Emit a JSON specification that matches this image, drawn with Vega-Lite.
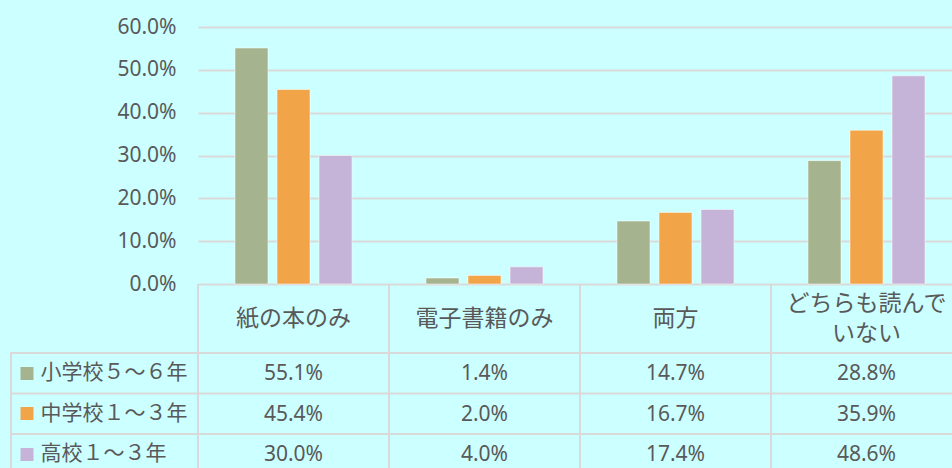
{
  "$schema": "https://vega.github.io/schema/vega-lite/v6.json",
  "background": "#ccffff",
  "padding": {"left": 9, "top": 16, "right": 0, "bottom": 0},
  "config": {
    "font": "'Noto Sans', 'Noto Sans CJK JP', sans-serif",
    "view": {"stroke": null}
  },
  "columns": 2,
  "spacing": 0,
  "bounds": "flush",
  "datasets": {
    "vals": [
      {"cat": "紙の本のみ", "series": "小学校５～６年", "value": 0.551},
      {"cat": "紙の本のみ", "series": "中学校１～３年", "value": 0.454},
      {"cat": "紙の本のみ", "series": "高校１～３年", "value": 0.300},
      {"cat": "電子書籍のみ", "series": "小学校５～６年", "value": 0.014},
      {"cat": "電子書籍のみ", "series": "中学校１～３年", "value": 0.020},
      {"cat": "電子書籍のみ", "series": "高校１～３年", "value": 0.040},
      {"cat": "両方", "series": "小学校５～６年", "value": 0.147},
      {"cat": "両方", "series": "中学校１～３年", "value": 0.167},
      {"cat": "両方", "series": "高校１～３年", "value": 0.174},
      {"cat": "どちらも読んでいない", "series": "小学校５～６年", "value": 0.288},
      {"cat": "どちらも読んでいない", "series": "中学校１～３年", "value": 0.359},
      {"cat": "どちらも読んでいない", "series": "高校１～３年", "value": 0.486}
    ],
    "cats": [
      {"cat": "紙の本のみ", "label": "紙の本のみ"},
      {"cat": "電子書籍のみ", "label": "電子書籍のみ"},
      {"cat": "両方", "label": "両方"},
      {"cat": "どちらも読んでいない", "label": "どちらも読んで\nいない"}
    ],
    "series": [
      {"series": "小学校５～６年"},
      {"series": "中学校１～３年"},
      {"series": "高校１～３年"}
    ]
  },
  "concat": [
    {
      "width": 187, "height": 257,
      "data": {"values": [{}]},
      "mark": "text",
      "encoding": {"text": {"value": ""}}
    },
    {
      "width": 755, "height": 257,
      "data": {"name": "vals"},
      "mark": {"type": "bar", "stroke": "#ffffff", "strokeOpacity": 0.5, "strokeWidth": 1},
      "encoding": {
        "x": {"field": "cat", "type": "nominal", "sort": ["紙の本のみ", "電子書籍のみ", "両方", "どちらも読んでいない"],
              "scale": {"type": "band", "range": [0, 764], "paddingInner": 0, "paddingOuter": 0}, "axis": null},
        "xOffset": {"field": "series", "type": "nominal", "sort": ["小学校５～６年", "中学校１～３年", "高校１～３年"],
                    "scale": {"type": "band", "paddingInner": 0.214, "paddingOuter": 0.88}},
        "y": {"field": "value", "type": "quantitative",
              "scale": {"domain": [0, 0.6]},
              "axis": {"format": ".1%", "values": [0, 0.1, 0.2, 0.3, 0.4, 0.5, 0.6], "domain": false, "ticks": false,
                       "labelPadding": 22, "labelFontSize": 21, "labelColor": "#595959",
                       "gridColor": "#d9d9d9", "gridWidth": 2, "title": null}},
        "color": {"field": "series", "type": "nominal",
                  "scale": {"domain": ["小学校５～６年", "中学校１～３年", "高校１～３年"], "range": ["#a5b38f", "#f2a548", "#c5b4d8"]},
                  "legend": null}
      }
    },
    {
      "width": 187, "height": 69,
      "data": {"values": [{}]},
      "mark": "text",
      "encoding": {"text": {"value": ""}}
    },
    {
      "width": 755, "height": 69,
      "data": {"name": "cats"},
      "layer": [
        {
          "mark": {"type": "rule", "color": "#d9d9d9", "strokeWidth": 2},
          "encoding": {
            "x": {"field": "cat", "type": "nominal", "sort": ["紙の本のみ", "電子書籍のみ", "両方", "どちらも読んでいない"], "bandPosition": 0,
                  "scale": {"type": "band", "range": [0, 764], "paddingInner": 0, "paddingOuter": 0}, "axis": null}
          }
        },
        {
          "transform": [{"filter": "datum.cat !== 'どちらも読んでいない'"}],
          "mark": {"type": "text", "fontSize": 23, "color": "#595959", "baseline": "middle"},
          "encoding": {
            "x": {"field": "cat", "type": "nominal", "sort": ["紙の本のみ", "電子書籍のみ", "両方", "どちらも読んでいない"],
                  "scale": {"type": "band", "range": [0, 764], "paddingInner": 0, "paddingOuter": 0}, "axis": null},
            "text": {"field": "label"}
          }
        },
        {
          "transform": [{"filter": "datum.cat === 'どちらも読んでいない'"}],
          "mark": {"type": "text", "fontSize": 23, "color": "#595959", "lineBreak": "\n", "lineHeight": 30, "baseline": "middle", "dy": -15},
          "encoding": {
            "x": {"field": "cat", "type": "nominal", "sort": ["紙の本のみ", "電子書籍のみ", "両方", "どちらも読んでいない"],
                  "scale": {"type": "band", "range": [0, 764], "paddingInner": 0, "paddingOuter": 0}, "axis": null},
            "text": {"field": "label"}
          }
        }
      ]
    },
    {
      "width": 187, "height": 116,
      "view": {"stroke": "#d9d9d9", "strokeWidth": 2},
      "data": {"name": "series"},
      "mark": {"type": "rule", "color": "#d9d9d9", "strokeWidth": 2},
      "encoding": {
        "y": {"field": "series", "type": "nominal", "sort": ["小学校５～６年", "中学校１～３年", "高校１～３年"], "bandPosition": 0,
              "scale": {"type": "band", "range": [0, 121.5], "paddingInner": 0, "paddingOuter": 0},
              "axis": {"orient": "left", "offset": -22, "domain": false, "grid": false, "ticks": true,
                       "tickSize": 13, "tickWidth": 13, "tickBand": "center",
                       "tickColor": {"condition": [{"test": "datum.value === '小学校５～６年'", "value": "#a5b38f"},
                                                   {"test": "datum.value === '中学校１～３年'", "value": "#f2a548"}],
                                     "value": "#c5b4d8"},
                       "labelAlign": "left", "labelBaseline": "middle", "labelPadding": -20,
                       "labelFontSize": 21, "labelColor": "#595959", "title": null}}
      }
    },
    {
      "width": 755, "height": 116,
      "layer": [
        {
          "data": {"name": "cats"},
          "mark": {"type": "rule", "color": "#d9d9d9", "strokeWidth": 2},
          "encoding": {
            "x": {"field": "cat", "type": "nominal", "sort": ["紙の本のみ", "電子書籍のみ", "両方", "どちらも読んでいない"], "bandPosition": 0,
                  "scale": {"type": "band", "range": [0, 764], "paddingInner": 0, "paddingOuter": 0}, "axis": null}
          }
        },
        {
          "data": {"name": "series"},
          "mark": {"type": "rule", "color": "#d9d9d9", "strokeWidth": 2},
          "encoding": {
            "y": {"field": "series", "type": "nominal", "sort": ["小学校５～６年", "中学校１～３年", "高校１～３年"], "bandPosition": 0,
                  "scale": {"type": "band", "range": [0, 121.5], "paddingInner": 0, "paddingOuter": 0}, "axis": null}
          }
        },
        {
          "data": {"name": "vals"},
          "mark": {"type": "text", "fontSize": 21, "color": "#595959", "baseline": "middle", "dy": 1},
          "encoding": {
            "x": {"field": "cat", "type": "nominal", "sort": ["紙の本のみ", "電子書籍のみ", "両方", "どちらも読んでいない"],
                  "scale": {"type": "band", "range": [0, 764], "paddingInner": 0, "paddingOuter": 0}, "axis": null},
            "y": {"field": "series", "type": "nominal", "sort": ["小学校５～６年", "中学校１～３年", "高校１～３年"],
                  "scale": {"type": "band", "range": [0, 121.5], "paddingInner": 0, "paddingOuter": 0}, "axis": null},
            "text": {"field": "value", "type": "quantitative", "format": ".1%"}
          }
        }
      ]
    }
  ]
}
